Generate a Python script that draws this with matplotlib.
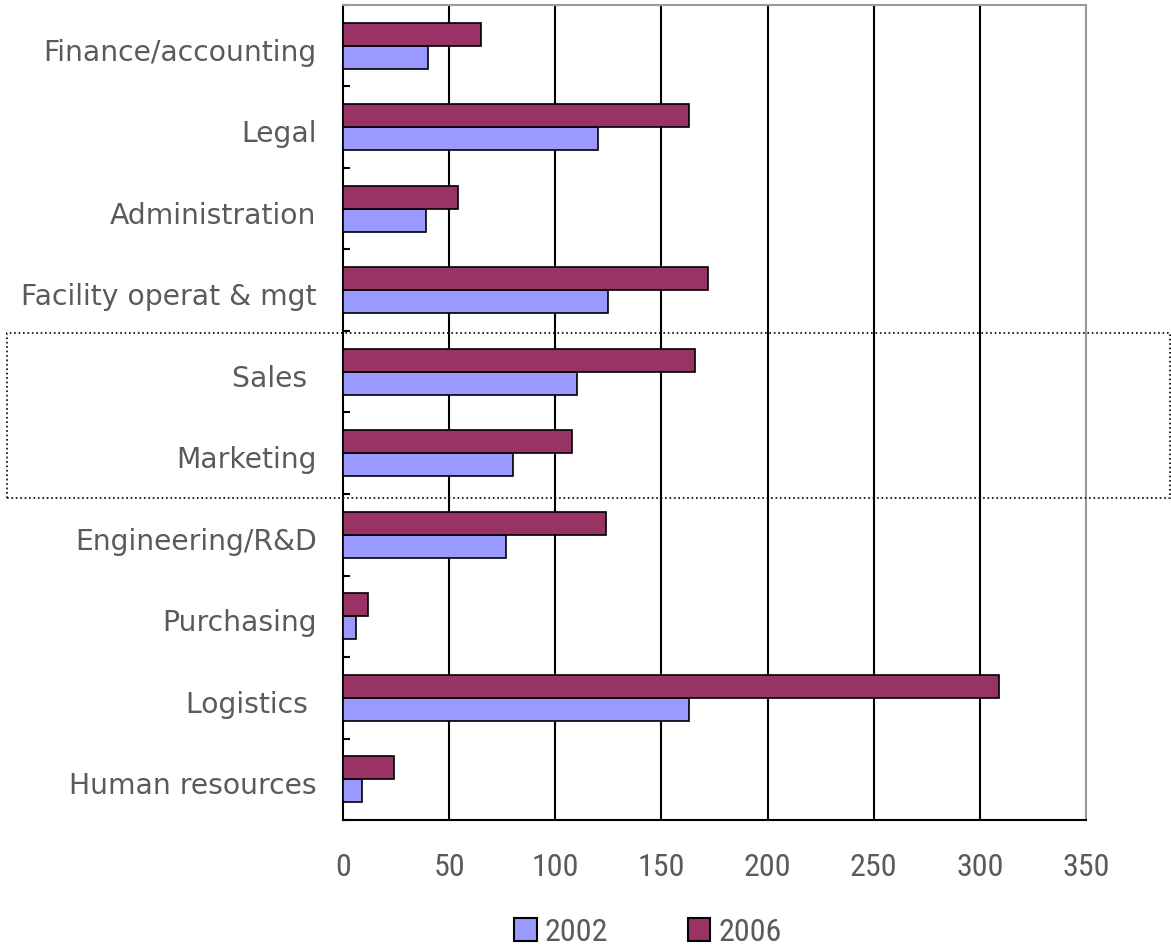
import matplotlib.pyplot as plt
import matplotlib.patches as patches
import matplotlib.transforms as mtransforms
from matplotlib import font_manager
import numpy as np

# datos
categories = ['Finance/accounting', 'Legal', 'Administration', 'Facility operat & mgt',
              'Sales ', 'Marketing', 'Engineering/R&D', 'Purchasing', 'Logistics ',
              'Human resources']
vals_2002 = [40, 120, 39, 125, 110, 80, 77, 6, 163, 9]
vals_2006 = [65, 163, 54, 172, 166, 108, 124, 12, 309, 24]
xticks = [0, 50, 100, 150, 200, 250, 300, 350]

C2002 = '#9999FF'
C2006 = '#993366'
GRAY = '#5a5a5a'

# fuente estrecha para los numeros, si existe
NUM_FONT, NUM_SIZE = 'Liberation Sans', 19
for fam, size in [('Liberation Sans Narrow', 22), ('Roboto Condensed', 23),
                  ('DejaVu Sans Condensed', 19.5)]:
    try:
        font_manager.findfont(font_manager.FontProperties(family=fam), fallback_to_default=False)
        NUM_FONT, NUM_SIZE = fam, size
        break
    except ValueError:
        pass

plt.rcParams['font.family'] = ['DejaVu Sans']

fig = plt.figure(figsize=(11.71, 9.47), dpi=100)
ax = fig.add_axes([343/1171, 1 - 820/947, (1086 - 343)/1171, (820 - 5)/947])

y = np.arange(len(categories))
h = 0.28
ax.barh(y + h/2, vals_2002, height=h, color=C2002, edgecolor='black', lw=1.2, label='2002', zorder=3)
ax.barh(y - h/2, vals_2006, height=h, color=C2006, edgecolor='black', lw=1.2, label='2006', zorder=3)

ax.set_xlim(0, 350)
ax.set_ylim(len(categories) - 0.5, -0.5)
ax.set_xticks(xticks)
ax.set_xticklabels([str(v) for v in xticks], fontsize=NUM_SIZE, color=GRAY, family=NUM_FONT)
ax.tick_params(axis='x', length=0, pad=24)
ax.set_yticks(y)
ax.set_yticklabels(categories, fontsize=20.3, color=GRAY)
ax.tick_params(axis='y', which='major', length=0, pad=19)
ax.set_yticks(np.arange(len(categories) + 1) - 0.5, minor=True)
ax.tick_params(axis='y', which='minor', direction='in', length=5, width=1.5, color='black')

# bajar un poco las etiquetas
off = mtransforms.ScaledTranslation(0, -4/100, fig.dpi_scale_trans)
for lab in ax.get_yticklabels():
    lab.set_transform(lab.get_transform() + off)

# rejilla vertical
for v in xticks[1:-1]:
    ax.axvline(v, color='black', lw=1.5, zorder=1)

ax.spines['left'].set_color('black')
ax.spines['left'].set_linewidth(1.5)
ax.spines['bottom'].set_color('black')
ax.spines['bottom'].set_linewidth(1.5)
ax.spines['top'].set_color('#9a9a9a')
ax.spines['right'].set_color('#9a9a9a')
ax.spines['top'].set_linewidth(1.5)
ax.spines['right'].set_linewidth(1.5)

leg = fig.legend(handles=[patches.Patch(facecolor=C2002, edgecolor='black', lw=1.5, label='2002'),
                          patches.Patch(facecolor=C2006, edgecolor='black', lw=1.5, label='2006')],
                 loc='center', bbox_to_anchor=(648/1171, 1 - 932/947), ncol=2, frameon=False,
                 prop={'family': NUM_FONT, 'size': NUM_SIZE}, handlelength=0.7, handleheight=0.7,
                 handletextpad=0.25, columnspacing=2.5)
for t in leg.get_texts():
    t.set_color(GRAY)

# recuadro punteado
fig.patches.append(patches.Rectangle((7/1171, 1 - 498/947), 1163/1171, 165/947,
                                     transform=fig.transFigure, fill=False,
                                     linestyle=':', lw=1.2, edgecolor='black', zorder=10))

fig.savefig('out.png', dpi=100)
